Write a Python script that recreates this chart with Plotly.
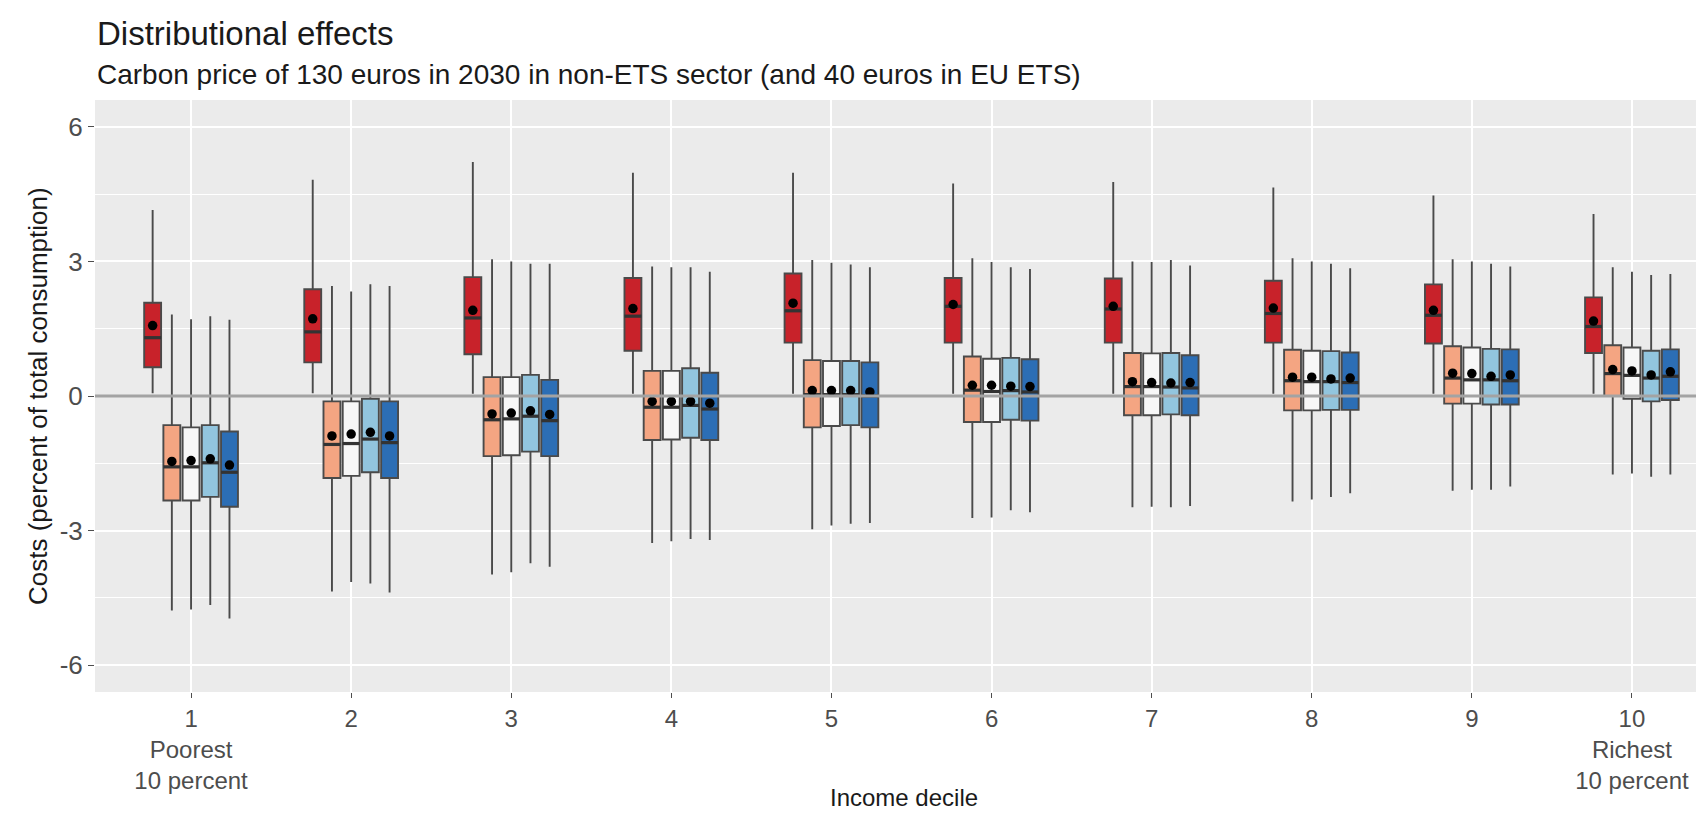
import plotly.graph_objects as go

# ---------------- data ----------------
deciles = [1, 2, 3, 4, 5, 6, 7, 8, 9, 10]
tick_labels = ["1<br>Poorest<br>10 percent", "2", "3", "4", "5", "6", "7", "8", "9",
               "10<br>Richest<br>10 percent"]

series_names = ["Scenario 1", "Scenario 2", "Scenario 3", "Scenario 4", "Scenario 5"]

s1_upper = [4.15, 4.82, 5.22, 4.98, 4.98, 4.74, 4.77, 4.65, 4.47, 4.06]
s1_q3 = [2.08, 2.38, 2.65, 2.63, 2.73, 2.63, 2.62, 2.57, 2.49, 2.20]
s1_median = [1.30, 1.43, 1.74, 1.78, 1.90, 2.00, 1.94, 1.84, 1.80, 1.55]
s1_q1 = [0.64, 0.75, 0.93, 1.01, 1.19, 1.19, 1.19, 1.19, 1.17, 0.96]
s1_lower = [0.06, 0.06, 0.05, 0.05, 0.05, 0.05, 0.05, 0.05, 0.05, 0.05]
s1_mean = [1.57, 1.72, 1.91, 1.95, 2.07, 2.04, 2.00, 1.96, 1.91, 1.67]

s2_upper = [1.82, 2.45, 3.05, 2.89, 3.03, 3.07, 3.00, 3.07, 3.05, 2.87]
s2_q3 = [-0.65, -0.12, 0.42, 0.56, 0.80, 0.88, 0.96, 1.03, 1.11, 1.13]
s2_median = [-1.58, -1.08, -0.53, -0.25, 0.03, 0.13, 0.21, 0.34, 0.40, 0.50]
s2_q1 = [-2.33, -1.83, -1.34, -0.98, -0.70, -0.58, -0.43, -0.32, -0.17, 0.00]
s2_lower = [-4.78, -4.36, -3.98, -3.28, -2.97, -2.72, -2.48, -2.35, -2.11, -1.75]
s2_mean = [-1.46, -0.89, -0.40, -0.12, 0.12, 0.24, 0.32, 0.42, 0.51, 0.59]

s3_upper = [1.71, 2.33, 3.00, 2.87, 2.97, 2.99, 2.99, 3.00, 3.00, 2.77]
s3_q3 = [-0.70, -0.12, 0.42, 0.56, 0.78, 0.83, 0.95, 1.01, 1.08, 1.08]
s3_median = [-1.58, -1.06, -0.51, -0.25, 0.03, 0.10, 0.21, 0.32, 0.36, 0.46]
s3_q1 = [-2.33, -1.78, -1.32, -0.97, -0.67, -0.58, -0.43, -0.32, -0.17, -0.06]
s3_lower = [-4.76, -4.15, -3.93, -3.24, -2.89, -2.71, -2.47, -2.31, -2.09, -1.73]
s3_mean = [-1.44, -0.85, -0.38, -0.12, 0.12, 0.24, 0.30, 0.42, 0.50, 0.56]

s4_upper = [1.78, 2.49, 2.95, 2.87, 2.93, 2.87, 3.03, 2.95, 2.95, 2.70]
s4_q3 = [-0.65, -0.06, 0.47, 0.62, 0.78, 0.85, 0.96, 1.00, 1.05, 1.01]
s4_median = [-1.49, -0.96, -0.45, -0.21, 0.03, 0.12, 0.20, 0.32, 0.36, 0.40]
s4_q1 = [-2.25, -1.70, -1.24, -0.93, -0.65, -0.53, -0.41, -0.31, -0.19, -0.12]
s4_lower = [-4.66, -4.18, -3.73, -3.19, -2.85, -2.55, -2.48, -2.25, -2.09, -1.80]
s4_mean = [-1.40, -0.81, -0.33, -0.12, 0.12, 0.22, 0.29, 0.38, 0.44, 0.47]

s5_upper = [1.70, 2.45, 2.95, 2.77, 2.87, 2.83, 2.91, 2.85, 2.89, 2.72]
s5_q3 = [-0.79, -0.12, 0.36, 0.52, 0.75, 0.82, 0.91, 0.97, 1.04, 1.04]
s5_median = [-1.70, -1.04, -0.55, -0.29, 0.00, 0.09, 0.18, 0.30, 0.34, 0.44]
s5_q1 = [-2.47, -1.83, -1.34, -0.98, -0.70, -0.55, -0.43, -0.31, -0.19, -0.09]
s5_lower = [-4.96, -4.38, -3.81, -3.21, -2.83, -2.59, -2.45, -2.17, -2.02, -1.75]
s5_mean = [-1.54, -0.89, -0.41, -0.16, 0.09, 0.21, 0.30, 0.40, 0.47, 0.54]

colors = ["#C8222A", "#F4A582", "#F7F7F7", "#92C5DE", "#2C6EB5"]

# ---------------- figure ----------------
stats = [
    (s1_q1, s1_median, s1_q3, s1_lower, s1_upper, s1_mean),
    (s2_q1, s2_median, s2_q3, s2_lower, s2_upper, s2_mean),
    (s3_q1, s3_median, s3_q3, s3_lower, s3_upper, s3_mean),
    (s4_q1, s4_median, s4_q3, s4_lower, s4_upper, s4_mean),
    (s5_q1, s5_median, s5_q3, s5_lower, s5_upper, s5_mean),
]

BOXGAP = 0.4
BOXGROUPGAP = 0.12
n = len(stats)
slot = (1 - BOXGAP) / n
half_w = slot * (1 - BOXGROUPGAP) / 2
line_col = "#4a4a4a"

fig = go.Figure()
for k, (q1, med, q3, lo, up, mn) in enumerate(stats):
    fig.add_trace(go.Box(
        x=deciles, q1=q1, median=med, q3=q3, lowerfence=lo, upperfence=up,
        name=series_names[k], fillcolor=colors[k],
        line=dict(color=line_col, width=1.9), whiskerwidth=0,
        boxpoints=False, showlegend=False, hoverinfo="skip",
    ))

# thicker median lines and mean points (ggplot style)
for k, (q1, med, q3, lo, up, mn) in enumerate(stats):
    off = (k - (n - 1) / 2) * slot
    mx, my = [], []
    for d, m in zip(deciles, med):
        mx += [d + off - half_w, d + off + half_w, None]
        my += [m, m, None]
    fig.add_trace(go.Scatter(x=mx, y=my, mode="lines",
                             line=dict(color="#333333", width=3.2),
                             showlegend=False, hoverinfo="skip"))
    fig.add_trace(go.Scatter(x=[d + off for d in deciles], y=mn, mode="markers",
                             marker=dict(color="black", size=9.5),
                             showlegend=False, hoverinfo="skip"))

fig.add_shape(type="line", xref="paper", x0=0, x1=1, yref="y", y0=0, y1=0,
              line=dict(color="#A3A3A3", width=3), layer="above")

W, H = 1704, 813
L, R, T, B = 87, 0, 92, 129
ph = H - T - B
pw = W - L - R

tick_font = dict(family="Liberation Sans, Arial, sans-serif", size=24, color="#4D4D4D")

fig.update_layout(
    width=W, height=H,
    margin=dict(l=L, r=R, t=T, b=B),
    paper_bgcolor="white", plot_bgcolor="#EBEBEB",
    boxmode="group", boxgap=BOXGAP, boxgroupgap=BOXGROUPGAP,
    font=dict(family="Liberation Sans, Arial, sans-serif", color="#1a1a1a"),
    xaxis=dict(range=[0.4, 10.5], tickvals=deciles, ticktext=tick_labels,
               showgrid=True, gridcolor="white", gridwidth=1.6, zeroline=False,
               ticks="outside", ticklen=5, tickcolor="#4D4D4D", tickwidth=1.2,
               tickfont=tick_font, showline=False),
    yaxis=dict(range=[-6.6, 6.6], tickvals=[-6, -3, 0, 3, 6],
               ticktext=["-6", "-3", "0", "3", "6"],
               showgrid=True, gridcolor="white", gridwidth=1.6, zeroline=False,
               ticks="outside", ticklen=6, tickcolor="#4D4D4D", tickwidth=1.2,
               tickfont=dict(family="Liberation Sans, Arial, sans-serif", size=26,
                             color="#4D4D4D"),
               showline=False,
               minor=dict(tickvals=[-4.5, -1.5, 1.5, 4.5], showgrid=True,
                          gridcolor="white", gridwidth=0.8, ticks="")),
)

def py(px):
    return 1 + (T - px) / ph

def pxx(px):
    return (px - L) / pw

fig.add_annotation(text="Distributional effects", xref="paper", yref="paper",
                   x=0, y=py(25), xanchor="left", yanchor="middle", showarrow=False,
                   font=dict(size=33, color="#1a1a1a"))
fig.add_annotation(text="Carbon price of 130 euros in 2030 in non-ETS sector (and 40 euros in EU ETS)",
                   xref="paper", yref="paper", x=0, y=py(66), xanchor="left",
                   yanchor="middle", showarrow=False, font=dict(size=28, color="#1a1a1a"))
fig.add_annotation(text="Costs (percent of total consumption)", xref="paper", yref="paper",
                   x=pxx(30), y=0.5, textangle=-90, xanchor="center", yanchor="middle",
                   showarrow=False, font=dict(size=26, color="#1a1a1a"))
fig.add_annotation(text="Income decile", xref="paper", yref="paper",
                   x=0.5, y=py(789), xanchor="center", yanchor="middle",
                   showarrow=False, font=dict(size=24, color="#1a1a1a"))

fig.write_html("out.html")
